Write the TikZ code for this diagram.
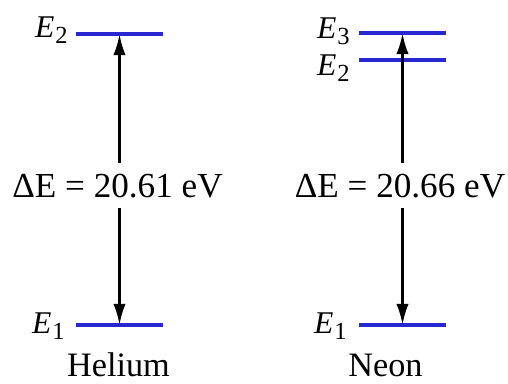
\documentclass[tikz,border=0pt]{standalone}
\usepackage{fontspec}
\setmainfont{Liberation Serif}
\usetikzlibrary{arrows.meta}
\definecolor{levblue}{RGB}{40,40,210}
\tikzset{
  lev/.style={draw=levblue, line width=2pt},
  tra/.style={-{Latex[length=12pt,width=7pt]}, line width=1.5pt},
  gap/.style={font=\fontsize{20}{23}\selectfont, inner xsep=0pt, inner ysep=6pt, anchor=base},
  elab/.style={font=\fontsize{18}{21}\selectfont, inner sep=0pt, anchor=base east},
  atom/.style={font=\fontsize{19.5}{22}\selectfont, inner sep=0pt, anchor=base}
}
\newcommand{\elev}[1]{\textit{E}\kern0.5pt\raisebox{-0.45ex}{\fontsize{14}{16}\selectfont #1}}

\begin{document}
\begin{tikzpicture}[x=0.02cm, y=-0.02cm]
		\useasboundingbox (0,0) rectangle (508,383);
		% helium
		\draw[lev] (76,34) -- coordinate (he2) (163,34);
		\draw[lev] (76,325) -- coordinate (he1) (163,325);
		\node[elab] (lhe2) at (68,37) {\elev{2}};
		\node[elab] (lhe1) at (65,333) {\elev{1}};
		\node[gap] (dhe) at (117.5,197) {ΔE = 20.61 eV};
		\draw[tra] (dhe.north -| he2) -- (he2);
		\draw[tra] (dhe.south -| he1) -- (he1);
		\node[atom] (he) at (118.5,376) {Helium};
		% neon
		\draw[lev] (359,33) -- coordinate (ne3) (446,33);
		\draw[lev] (359,60) -- coordinate (ne2) (446,60);
		\draw[lev] (359,325) -- coordinate (ne1) (446,325);
		\node[elab] (lne3) at (350,38) {\elev{3}};
		\node[elab] (lne2) at (350,75) {\elev{2}};
		\node[elab] (lne1) at (347,333) {\elev{1}};
		\node[gap] (dne) at (400,197) {ΔE = 20.66 eV};
		\draw[tra] (dne.north -| ne3) -- (ne3);
		\draw[tra] (dne.south -| ne1) -- (ne1);
		\node[atom] (ne) at (385.5,376) {Neon};
	\end{tikzpicture}
\end{document}
